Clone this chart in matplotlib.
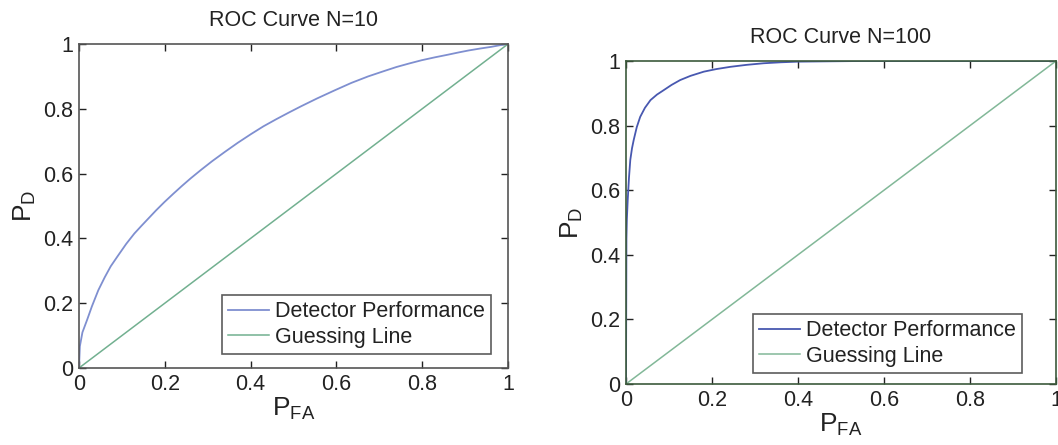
import matplotlib
matplotlib.use("Agg")
import matplotlib.pyplot as plt

plt.rcParams['font.family'] = ['Liberation Sans', 'DejaVu Sans']
plt.rcParams['mathtext.fontset'] = 'custom'
plt.rcParams['mathtext.rm'] = 'Liberation Sans'
plt.rcParams['mathtext.it'] = 'Liberation Sans'

# ROC curve N=10
pfa_10 = [0.0, 0.002, 0.008, 0.019, 0.03, 0.045, 0.06, 0.074, 0.09, 0.11, 0.129, 0.145,
          0.16, 0.18, 0.199, 0.22, 0.24, 0.26, 0.284, 0.31, 0.34, 0.37, 0.401, 0.43,
          0.46, 0.49, 0.518, 0.555, 0.596, 0.635, 0.674, 0.71, 0.74, 0.77, 0.799,
          0.83, 0.86, 0.885, 0.908, 0.935, 0.96, 0.98, 1.0]
pd_10 = [0.0, 0.067, 0.11, 0.149, 0.19, 0.24, 0.28, 0.314, 0.345, 0.383, 0.415, 0.438,
         0.459, 0.487, 0.512, 0.538, 0.562, 0.585, 0.611, 0.638, 0.667, 0.695, 0.722, 0.746,
         0.768, 0.789, 0.808, 0.832, 0.857, 0.880, 0.900, 0.916, 0.929, 0.940, 0.950,
         0.959, 0.967, 0.974, 0.980, 0.986, 0.991, 0.996, 1.0]

# ROC curve N=100
pfa_100 = [0.0, 0.001, 0.002, 0.004, 0.007, 0.010, 0.014, 0.018, 0.025, 0.033, 0.044,
           0.057, 0.072, 0.088, 0.106, 0.126, 0.15, 0.181, 0.21, 0.243, 0.28, 0.32,
           0.36, 0.40, 0.47, 0.55, 0.75, 1.0]
pd_100 = [0.0, 0.45, 0.51, 0.570, 0.64, 0.694, 0.73, 0.756, 0.795, 0.827, 0.855,
          0.879, 0.896, 0.910, 0.926, 0.941, 0.954, 0.967, 0.975, 0.982, 0.988, 0.993,
          0.996, 0.998, 0.999, 1.0, 1.0, 1.0]

guess = [0.0, 1.0]

titles = ["ROC Curve N=10", "ROC Curve N=100"]
ticks = [0, 0.2, 0.4, 0.6, 0.8, 1]
tick_labels = ["0", "0.2", "0.4", "0.6", "0.8", "1"]

fig = plt.figure(figsize=(10.58, 4.45), dpi=100)
ax1 = fig.add_axes([79/1058, 1-368/445, 429/1058, 324/445])
ax2 = fig.add_axes([626/1058, 1-384/445, 430/1058, 323/445])

styles = [
    dict(ax=ax1, x=pfa_10, y=pd_10, blue='#7f8fd0', green='#72b090', spine='#555555',
         anchor=(0.960, 0.043)),
    dict(ax=ax2, x=pfa_100, y=pd_100, blue='#4858b0', green='#82b898', spine='#3c5a3c',
         anchor=(0.921, 0.034)),
]

for s, title in zip(styles, titles):
    ax = s['ax']
    ax.plot(s['x'], s['y'], color=s['blue'], lw=1.3, label='Detector Performance')
    ax.plot(guess, guess, color=s['green'], lw=1.1, label='Guessing Line')
    ax.set_xlim(0, 1)
    ax.set_ylim(0, 1)
    ax.set_xticks(ticks)
    ax.set_xticklabels(tick_labels)
    ax.set_yticks(ticks)
    ax.set_yticklabels(tick_labels)
    ax.tick_params(direction='in', length=5, width=1, top=True, right=True,
                   labelsize=15.5, colors='#222222', pad=4)
    for sp in ax.spines.values():
        sp.set_color(s['spine'])
        sp.set_linewidth(1.2)
    ax.set_title(title, fontsize=15.5, color='#222222', pad=13)
    ax.set_xlabel(r'$\mathrm{P_{FA}}$', fontsize=19, color='#222222', labelpad=1)
    ax.set_ylabel(r'$\mathrm{P_{D}}$', fontsize=19, color='#222222', labelpad=4)
    leg = ax.legend(loc='lower right', bbox_to_anchor=s['anchor'], fontsize=15.5,
                    frameon=True, fancybox=False, edgecolor='#333333',
                    handlelength=1.9, handletextpad=0.25, labelspacing=0.2,
                    borderpad=0.3, borderaxespad=0)
    leg.get_frame().set_linewidth(1.2)
    for t in leg.get_texts():
        t.set_color('#222222')

fig.savefig('out.png', dpi=100)
